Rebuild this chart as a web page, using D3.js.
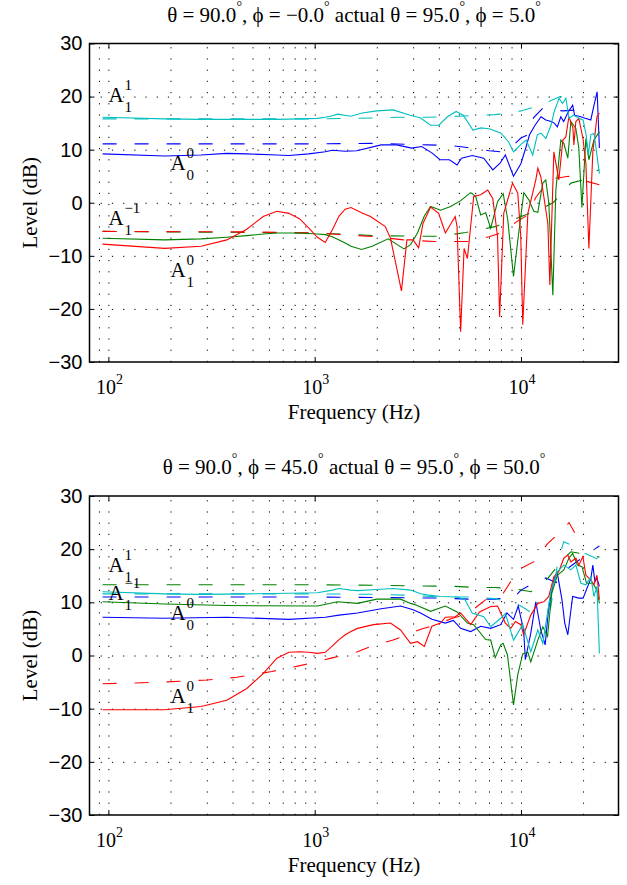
<!DOCTYPE html>
<html>
<head>
<meta charset="utf-8">
<script src="https://cdn.jsdelivr.net/npm/d3@7"></script>
<style>
body { margin: 0; background: #fff; }
svg { font-family: "Liberation Serif", "Times New Roman", serif; }
.grid line { stroke: #000; stroke-width: 1; stroke-dasharray: 1.2, 10; }
.grid path, .axis path { display: none; }
.axis line { stroke: #000; stroke-width: 1; }
.axis text { font-size: 20px; fill: #000; }
.frame { fill: none; stroke: #000; stroke-width: 1.5; }
.meas { fill: none; stroke-width: 1.1; }
.model { fill: none; stroke-width: 1.1; stroke-dasharray: 14, 18; }
text { fill: #000; }
</style>
</head>
<body>
<svg id="chart" width="627" height="885"></svg>
<script>
//---------------- data: [frequency Hz, level dB] ----------------
// upper panel: theta = 90, phi = 0
var topCyanMeas = [[93.75,16.1],[187.5,15.8],[281.25,15.7],[375,15.7],[468.75,15.7],[656.25,15.7],[843.75,15.8],[1031.25,15.9],[1125,16.1],[1218.75,16.4],[1290,16.7],[1500,16.3],[1700,16.9],[2000,17.3],[2400,17.5],[2900,16.5],[3250,16.0],[3650,14.6],[4000,14.6],[4400,16.2],[4850,17.2],[5250,16.5],[5850,13.7],[6400,14.1],[7100,13.9],[8000,13.1],[8700,11.5],[9200,9.6],[10000,11.0],[10600,11.8],[11400,9.0],[12000,12.8],[12500,13.1],[13200,12.1],[14000,14.7],[14500,17.2],[15300,19.7],[15900,18.7],[16500,19.7],[17100,15.9],[18000,16.5],[19100,15.9],[20000,15.6],[20700,12.8],[21200,9.0],[21800,12.8],[22600,13.1],[24000,5.5]];
var topCyanModel = [[93.75,15.8],[1000,15.8],[1600,15.9],[2500,16.1],[3500,16.1],[5000,16.3],[7500,16.6],[10000,17.3],[11300,17.9],[13500,19.0],[15500,20.0],[16500,20.0]];
var topBlueMeas = [[93.75,9.2],[187.5,8.8],[281.25,9.0],[375,9.3],[468.75,9.2],[656.25,9.0],[750,8.9],[937.5,9.2],[1125,9.6],[1218.75,9.9],[1406.25,9.7],[1600,9.8],[2100,10.9],[2500,10.9],[2950,10.3],[3300,10.6],[3700,9.4],[4050,8.1],[4500,8.1],[4900,7.1],[5150,8.4],[5800,8.9],[6600,8.4],[7300,6.2],[7900,7.4],[8400,9.0],[9200,5.0],[10000,7.4],[10600,10.6],[11000,12.8],[11700,14.6],[12500,16.2],[13200,15.6],[14000,15.3],[14500,15.0],[15000,14.3],[15600,16.2],[16100,15.3],[17000,17.2],[17800,18.4],[18200,16.5],[19500,16.2],[20500,15.9],[21800,15.6],[22600,18.4],[23400,20.9],[24000,10.3]];
var topBlueModel = [[93.75,11.1],[1000,11.1],[2000,11.2],[3500,10.9],[4500,10.8],[5500,10.4],[7000,9.8],[8000,9.6],[9000,10.5],[10000,12.2],[10800,12.8],[11500,16.0],[12760,17.8],[14000,17.5],[16000,17.3],[19000,17.5],[22000,17.1]];
var topGreenMeas = [[93.75,-6.7],[187.5,-7.0],[281.25,-6.8],[375,-6.5],[468.75,-6.2],[562.5,-5.9],[656.25,-5.7],[843.75,-5.7],[1031.25,-5.9],[1125,-6.0],[1218.75,-6.4],[1312.5,-7.0],[1406.25,-7.6],[1500,-8.2],[1687.5,-8.8],[1900,-8.2],[2270,-6.8],[2710,-8.7],[2915,-7.9],[3150,-5.7],[3400,-2.5],[3646,-0.7],[4077,-1.4],[4560,-0.7],[5100,0.4],[5703,1.9],[6030,1.2],[6378,-2.3],[6744,-1.9],[7133,-4.8],[7700,0.2],[8200,1.7],[8630,-3.2],[9200,-13.9],[9700,-6.4],[10320,1.9],[10900,0.6],[11540,-1.6],[12070,-1.8],[12760,3.7],[13190,4.3],[13640,0.0],[14270,-17.4],[14760,2.4],[15606,11.8],[16130,11.2],[16870,8.4],[17453,15.3],[18450,14.0],[19070,10.3],[19740,-0.9],[20640,12.1],[21340,8.1],[22570,11.8],[24000,13.4]];
var topGreenModel = [[93.75,-5.4],[500,-5.6],[1000,-5.7],[1500,-6.0],[2000,-6.2],[3000,-6.3],[4077,-6.3],[5400,-5.6],[7500,-4.5],[10500,-2.3],[12000,-1.5],[14300,0.0],[16000,2.0],[17453,3.7],[19960,4.3],[21500,5.5],[24000,6.2]];
var topRedMeas = [[93.75,-7.8],[187.5,-8.6],[281.25,-8.2],[375,-7.0],[468.75,-5.0],[562.5,-2.6],[656.25,-1.6],[750,-2.0],[843.75,-3.0],[937.5,-4.8],[1031.25,-6.5],[1125,-7.5],[1218.75,-5.1],[1312.5,-2.5],[1406.25,-1.2],[1500,-0.9],[1687.5,-1.9],[1864,-2.6],[2200,-4.5],[2331,-6.7],[2634,-16.6],[2800,-7.0],[3000,-7.0],[3190,-8.5],[3350,-3.9],[3646,-0.8],[3990,-2.0],[4300,-5.7],[4800,-2.6],[4900,-4.5],[5100,-24.3],[5300,-8.6],[5500,-10.5],[5900,1.2],[6378,1.5],[6900,2.4],[7300,0.8],[7700,-6.4],[7880,-21.5],[8250,-2.0],[9100,3.7],[9650,1.8],[9977,-6.4],[10200,-23.0],[10800,-2.0],[11800,4.3],[12070,6.5],[12478,4.9],[13500,-3.9],[13800,-15.5],[14430,9.6],[15260,4.3],[15960,11.8],[16500,12.4],[17070,16.2],[17850,14.1],[18050,10.9],[18450,15.3],[19070,15.9],[19960,12.2],[20640,7.4],[21340,-8.6],[22300,9.6],[22830,12.8],[23350,16.2],[24000,16.9]];
var topRedModel = [[93.75,-5.4],[500,-5.5],[1000,-5.7],[1500,-6.1],[2000,-6.4],[2700,-7.0],[3800,-7.3],[5500,-7.3],[7000,-6.4],[8000,-5.7],[9500,-3.6],[10800,-2.3],[11800,1.0],[12900,3.0],[14000,4.5],[17000,5.0],[20000,4.2],[24000,3.4]];

// lower panel: theta = 90, phi = 45
var botCyanMeas = [[93.75,12.0],[187.5,11.6],[281.25,11.5],[468.75,11.6],[750,11.7],[1031.25,11.8],[1218.75,12.3],[1312.5,12.6],[1500,12.3],[1612,12.2],[2000,12.4],[2400,12.6],[2915,12.3],[3260,11.6],[3500,11.4],[4077,11.1],[4900,11.0],[5350,10.5],[5800,8.0],[6600,7.3],[7133,5.4],[7977,7.0],[8400,7.9],[9200,2.9],[10200,5.8],[11157,0.7],[12070,4.8],[12760,2.3],[13955,12.0],[15000,15.8],[16130,17.0],[17453,16.1],[18450,17.0],[19519,13.6],[20640,13.3],[21829,14.8],[22570,11.1],[23350,13.0],[24000,0.4]];
var botCyanModel = [[93.75,11.6],[1000,11.6],[2000,11.5],[3000,11.3],[4000,11.0],[5500,11.0],[7500,10.7],[9900,9.4],[11000,8.3],[13000,8.2],[13900,8.8],[15000,17.0],[16100,21.4],[17500,20.8],[18800,19.8],[21300,18.9],[24000,18.0]];
var botBlueMeas = [[93.75,7.2],[187.5,7.0],[375,7.2],[750,6.8],[1125,7.2],[1312.5,7.6],[1612,8.0],[2100,8.8],[2607,9.3],[3000,8.6],[3260,8.0],[3700,6.8],[4300,6.1],[4700,6.6],[5100,5.1],[5703,4.5],[6378,5.5],[7133,5.1],[7977,5.8],[8550,8.0],[9200,6.8],[9700,9.3],[10300,4.8],[10500,-0.8],[11157,4.2],[11800,10.1],[12478,4.8],[13100,2.0],[13600,8.6],[14430,14.2],[15000,15.5],[15800,10.5],[16300,6.1],[16870,3.9],[17800,11.1],[19070,10.8],[20000,10.8],[21829,14.5],[22300,17.0],[22830,13.9],[23350,14.5],[24000,13.0]];
var botBlueModel = [[93.75,11.0],[1000,11.0],[2000,10.9],[4000,10.8],[5500,10.6],[7500,10.6],[9300,11.0],[10000,12.3],[11000,13.2],[13200,14.6],[14800,13.7],[17000,16.5],[20000,18.5],[22300,19.8],[24000,20.6]];
var botGreenMeas = [[93.75,10.1],[187.5,9.7],[375,9.4],[1031.25,9.3],[1290,10.1],[1612,9.8],[2000,10.6],[2607,10.6],[2915,9.8],[3100,9.5],[3646,8.3],[4300,9.3],[4900,8.2],[5500,6.1],[5900,5.8],[6744,3.0],[7133,2.9],[7500,-0.4],[7977,2.0],[8200,2.3],[8600,0.1],[9200,-9.3],[9650,-3.6],[10200,0.3],[10800,0.6],[11157,-1.2],[12070,2.9],[12760,5.4],[13450,3.6],[14100,11.7],[15000,15.1],[16130,16.1],[17070,18.3],[17800,19.2],[18800,17.0],[19740,16.7],[20800,13.6],[22300,13.6],[23350,12.3],[24000,9.8]];
var botGreenModel = [[93.75,13.3],[1000,13.3],[2000,13.2],[3000,13.1],[4800,13.0],[6000,12.8],[7500,12.8],[9500,12.5],[11200,12.0],[13500,14.5],[15500,17.5],[17453,19.5],[19500,19.2],[21300,18.9],[24000,18.5]];
var botRedMeas = [[93.75,-10.2],[187.5,-10.2],[281.25,-9.6],[375,-8.4],[468.75,-6.2],[562.5,-3.4],[656.25,-0.5],[750,0.6],[843.75,0.7],[937.5,0.6],[1031.25,0.4],[1125,0.6],[1218.75,1.8],[1312.5,3.0],[1406.25,3.9],[1500,4.5],[1612,5.1],[1927,5.8],[2331,6.1],[2607,4.8],[2915,2.3],[3150,2.6],[3400,1.7],[3700,5.5],[4077,6.1],[4300,7.2],[4800,7.3],[5100,8.0],[5703,5.8],[6300,8.2],[7133,9.2],[7700,9.3],[8400,6.1],[8921,5.1],[9400,6.4],[9977,5.8],[10300,3.9],[11157,7.6],[12070,9.8],[12900,10.1],[13640,11.1],[14430,14.8],[15260,15.8],[16130,18.3],[16870,18.9],[17453,17.6],[18450,18.3],[19070,17.0],[19960,18.6],[20640,15.1],[21829,14.2],[22570,13.3],[23350,15.1],[24000,10.5]];
var botRedModel = [[93.75,-5.3],[130,-5.2],[180,-5.0],[300,-4.6],[420,-4.1],[620,-3.0],[850,-1.9],[1200,-0.5],[1612,0.7],[1900,1.8],[2400,2.9],[3300,5.0],[3800,5.7],[4650,7.0],[5500,7.8],[6900,10.8],[8200,11.7],[9700,16.1],[11500,17.6],[13500,21.1],[15600,23.3],[17100,25.0],[18450,22.7]];

// text
var titleTop = ["\u03b8 = 90.0", "\u00b0", ", \u03d5 = \u22120.0", "\u00b0", " actual \u03b8 = 95.0", "\u00b0", ", \u03d5 = 5.0", "\u00b0"];
var titleBot = ["\u03b8 = 90.0", "\u00b0", ", \u03d5 = 45.0", "\u00b0", " actual \u03b8 = 95.0", "\u00b0", ", \u03d5 = 50.0", "\u00b0"];
// [frequency, level, superscript, subscript]
var topLabels = [[100, 19.0, "1", "1"], [200, 6.2, "0", "0"], [100, -4.2, "\u22121", "1"], [200, -14.0, "0", "1"]];
var botLabels = [[100, 15.7, "1", "1"], [100, 10.5, "\u22121", "1"], [200, 6.7, "0", "0"], [200, -8.9, "0", "1"]];
var yTicks = [-30, -20, -10, 0, 10, 20, 30];
var decadeTicks = [100, 1000, 10000];
var xLabel = "Frequency (Hz)", yLabel = "Level (dB)";

var CYAN = "#00bfbf", BLUE = "#0000ff", GREEN = "#008000", RED = "#ff0000";

//---------------- drawing ----------------
var svg = d3.select("#chart");
var plotLeft = 89.5, plotRight = 618.5;

var x = d3.scaleLog().domain([81, 29700]).range([plotLeft, plotRight]);

// minor log positions for the dotted grid
var gridFreqs = [];
[10, 100, 1000, 10000].forEach(function(dec) {
	for (var k = 1; k <= 9; k++) {
		var v = k * dec;
		if (v >= 81 && v <= 29700) gridFreqs.push(v);
	}
});

// text with alternating normal / raised parts
function richText(g, parts, px, py, anchor, size) {
	var t = g.append("text")
		.attr("x", px).attr("y", py)
		.attr("text-anchor", anchor)
		.style("font-size", size + "px")
		.style("white-space", "pre");
	var shift = 0;
	parts.forEach(function(p, i) {
		var sup = i % 2 === 1;
		var target = sup ? -Math.round(size * 0.5) : 0;
		t.append("tspan")
			.attr("dy", target - shift)
			.style("font-size", sup ? Math.round(size * 0.68) + "px" : null)
			.text(p);
		shift = target;
	});
	return t;
}

function drawPanel(top, bottom, title, series, labels) {
	var y = d3.scaleLinear().domain([-30, 30]).range([bottom, top]);
	var w = plotRight - plotLeft, h = bottom - top;
	var g = svg.append("g");

	// dotted grid
	g.append("g")
		.attr("class", "grid")
		.attr("transform", "translate(0," + bottom + ")")
		.call(d3.axisBottom(x).tickValues(gridFreqs).tickSize(-h).tickFormat(""));
	g.append("g")
		.attr("class", "grid")
		.attr("transform", "translate(" + plotLeft + ",0)")
		.call(d3.axisLeft(y).tickValues([-20, -10, 0, 10, 20]).tickSize(-w).tickFormat(""));

	// curves
	var line = d3.line()
		.x(function(d) { return x(d[0]); })
		.y(function(d) { return y(d[1]); });
	series.forEach(function(s) {
		g.append("path")
			.datum(s.data)
			.attr("class", s.dashed ? "model" : "meas")
			.attr("stroke", s.color)
			.attr("d", line);
	});

	// ticks (inward, matlab style)
	g.append("g")
		.attr("class", "axis")
		.attr("transform", "translate(" + plotLeft + ",0)")
		.call(d3.axisLeft(y).tickValues(yTicks).tickSize(-5).tickPadding(7)
			.tickFormat(function(d) { return d < 0 ? "\u2212" + (-d) : d; }));
	g.append("g")
		.attr("class", "axis")
		.attr("transform", "translate(" + plotRight + ",0)")
		.call(d3.axisRight(y).tickValues(yTicks).tickSize(-5).tickFormat(""));
	g.append("g")
		.attr("class", "axis")
		.attr("transform", "translate(0," + top + ")")
		.call(d3.axisTop(x).tickValues(decadeTicks).tickSize(-5).tickFormat(""));
	g.append("g")
		.attr("class", "axis")
		.attr("transform", "translate(0," + bottom + ")")
		.call(d3.axisBottom(x).tickValues(decadeTicks).tickSize(-5).tickFormat(""));

	// decade labels 10^n
	decadeTicks.forEach(function(v) {
		richText(g, ["10", String(Math.round(Math.log10(v)))], x(v) + 1, bottom + 32, "middle", 20);
	});

	g.append("rect")
		.attr("class", "frame")
		.attr("x", plotLeft).attr("y", top)
		.attr("width", w).attr("height", h);

	// curve names
	labels.forEach(function(l) {
		var lx = x(l[0]), ly = y(l[1]);
		g.append("text").attr("x", lx).attr("y", ly).style("font-size", "21px").text("A");
		g.append("text").attr("x", lx + 16).attr("y", ly - 12).style("font-size", "15px").text(l[2]);
		g.append("text").attr("x", lx + 16).attr("y", ly + 10).style("font-size", "15px").text(l[3]);
	});

	var cx = (plotLeft + plotRight) / 2;
	richText(g, title, cx, top - 22, "middle", 21);
	g.append("text")
		.attr("x", cx).attr("y", bottom + 57)
		.attr("text-anchor", "middle")
		.style("font-size", "21px")
		.text(xLabel);
	g.append("text")
		.attr("transform", "translate(37," + ((top + bottom) / 2) + ") rotate(-90)")
		.attr("text-anchor", "middle")
		.style("font-size", "21px")
		.text(yLabel);
}

drawPanel(43.5, 362, titleTop, [
	{data: topBlueModel, color: BLUE, dashed: true},
	{data: topGreenModel, color: GREEN, dashed: true},
	{data: topRedModel, color: RED, dashed: true},
	{data: topCyanModel, color: CYAN, dashed: true},
	{data: topBlueMeas, color: BLUE},
	{data: topGreenMeas, color: GREEN},
	{data: topRedMeas, color: RED},
	{data: topCyanMeas, color: CYAN}
], topLabels);

drawPanel(496, 815, titleBot, [
	{data: botBlueModel, color: BLUE, dashed: true},
	{data: botGreenModel, color: GREEN, dashed: true},
	{data: botRedModel, color: RED, dashed: true},
	{data: botCyanModel, color: CYAN, dashed: true},
	{data: botBlueMeas, color: BLUE},
	{data: botGreenMeas, color: GREEN},
	{data: botRedMeas, color: RED},
	{data: botCyanMeas, color: CYAN}
], botLabels);
</script>
</body>
</html>
